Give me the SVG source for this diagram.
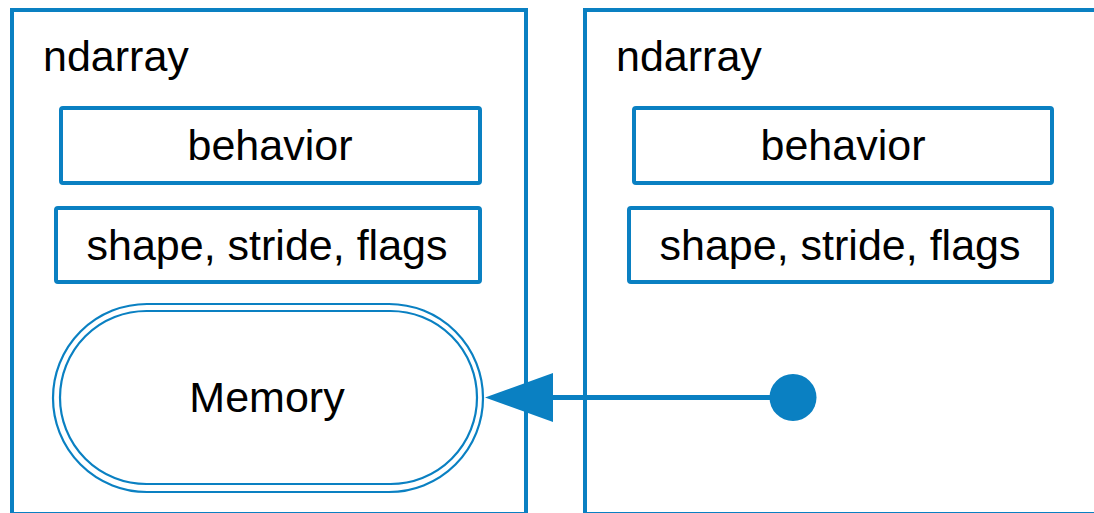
<svg xmlns="http://www.w3.org/2000/svg" width="1094" height="513" viewBox="0 0 1094 513">
  <style>
    .frame { fill: #ffffff; stroke: #0a80c2; stroke-width: 4; }
    .field { fill: #ffffff; stroke: #0a80c2; stroke-width: 4; }
    .pill { fill: none; stroke: #0a80c2; stroke-width: 2.2; }
    .label { font-family: "Liberation Sans", Arial, sans-serif; font-size: 43px; fill: #000000; }
    .mid { text-anchor: middle; }
    .link { stroke: #0a80c2; stroke-width: 5; fill: none; }
  </style>
  <rect width="1094" height="513" fill="#ffffff"/>

  <!-- left array object -->
  <g id="ndarray-left">
    <rect class="frame" x="12" y="10" width="514" height="504"/>
    <text class="label" x="43" y="71">ndarray</text>
  </g>
  <g id="behavior-left">
    <rect class="field" x="61" y="108" width="419" height="75" rx="2"/>
    <text class="label mid" x="270" y="160">behavior</text>
  </g>
  <g id="meta-left">
    <rect class="field" x="56" y="208" width="424" height="74" rx="2"/>
    <text class="label mid" x="267" y="260">shape, stride, flags</text>
  </g>
  <g id="memory">
    <rect class="pill" x="53" y="304" width="430" height="188" rx="94" ry="94"/>
    <rect class="pill" x="60" y="311" width="417" height="173" rx="86.5" ry="86.5"/>
    <text class="label mid" x="267" y="412">Memory</text>
  </g>

  <!-- right array object (view) -->
  <g id="ndarray-right">
    <rect class="frame" x="585" y="10" width="520" height="504"/>
    <text class="label" x="616" y="71">ndarray</text>
  </g>
  <g id="behavior-right">
    <rect class="field" x="634" y="108" width="418" height="75" rx="2"/>
    <text class="label mid" x="843" y="160">behavior</text>
  </g>
  <g id="meta-right">
    <rect class="field" x="629" y="208" width="423" height="74" rx="2"/>
    <text class="label mid" x="840" y="260">shape, stride, flags</text>
  </g>

  <!-- data pointer from the view to the shared memory -->
  <g id="connectors">
    <line class="link" x1="793" y1="397.5" x2="552" y2="397.5"/>
    <path d="M485,397.5 L553,373 L553,422 Z" fill="#0a80c2"/>
    <circle cx="793" cy="397.5" r="23.5" fill="#0a80c2"/>
  </g>
</svg>
